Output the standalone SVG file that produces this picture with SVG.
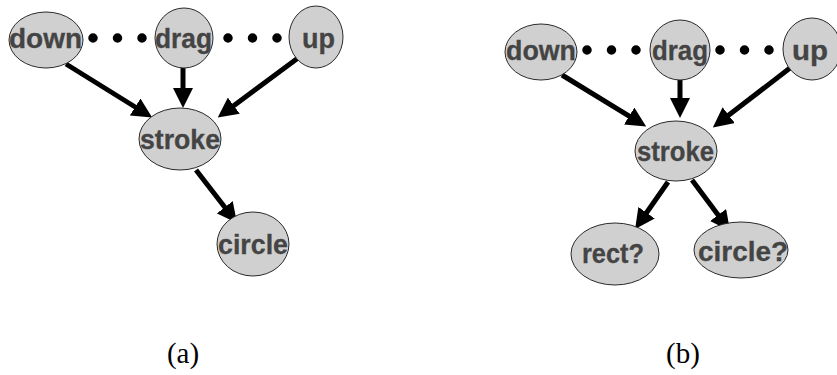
<svg xmlns="http://www.w3.org/2000/svg" width="837" height="375" viewBox="0 0 837 375">
<style>
.n ellipse{fill:#d0d0d0;stroke:#2a2a2a;stroke-width:1}
.n text{font-family:"Liberation Sans",Arial,sans-serif;font-weight:bold;font-size:27px;fill:#444;stroke:#444;stroke-width:0.3}
.e{stroke:#000;stroke-width:5;fill:none;marker-end:url(#ah)}
.dots{stroke:#000;stroke-width:9.5;stroke-linecap:round;stroke-dasharray:0 24.5;fill:none}
.cap{font-family:"Liberation Serif","Times New Roman",serif;font-size:29px;fill:#000;text-anchor:middle}
</style>
<defs>
<marker id="ah" viewBox="0 0 20 20" refX="1" refY="10" markerWidth="20" markerHeight="20" markerUnits="userSpaceOnUse" orient="auto">
<path d="M0,0 L20,10 L0,20 Z" fill="#000"/>
</marker>
</defs>
<rect width="837" height="375" fill="#fff"/>
<g id="connectors">
<line class="dots" x1="93" y1="38" x2="143" y2="38"/>
<line class="dots" x1="228" y1="38" x2="278" y2="38"/>
<line class="e" x1="66" y1="64" x2="136" y2="107.5"/>
<line class="e" x1="183" y1="68" x2="183" y2="89"/>
<line class="e" x1="298" y1="58" x2="233" y2="106.2"/>
<line class="e" x1="196" y1="170" x2="225.4" y2="208"/>
<line class="dots" x1="587" y1="50" x2="637" y2="50"/>
<line class="dots" x1="720" y1="50" x2="770" y2="50"/>
<line class="e" x1="562" y1="75" x2="630" y2="116.6"/>
<line class="e" x1="680" y1="80" x2="680" y2="99"/>
<line class="e" x1="790" y1="68" x2="727.9" y2="115.8"/>
<line class="e" x1="668" y1="182" x2="646" y2="213.5"/>
<line class="e" x1="692" y1="180" x2="718.7" y2="215.8"/>
</g>
<g id="a-down" class="n"><ellipse cx="46" cy="40" rx="37" ry="28"/><text x="9" y="48" textLength="73" lengthAdjust="spacingAndGlyphs">down</text></g>
<g id="a-drag" class="n"><ellipse cx="184" cy="38" rx="29" ry="30"/><text x="155" y="48" textLength="57" lengthAdjust="spacingAndGlyphs">drag</text></g>
<g id="a-up" class="n"><ellipse cx="316" cy="37" rx="27" ry="31"/><text x="302" y="48" textLength="33" lengthAdjust="spacingAndGlyphs">up</text></g>
<g id="a-stroke" class="n"><ellipse cx="180" cy="139" rx="41" ry="31"/><text x="140" y="149" textLength="80" lengthAdjust="spacingAndGlyphs">stroke</text></g>
<g id="a-circle" class="n"><ellipse cx="253" cy="244" rx="36" ry="32"/><text x="218" y="254" textLength="70" lengthAdjust="spacingAndGlyphs">circle</text></g>
<g id="b-down" class="n"><ellipse cx="541" cy="52" rx="36" ry="28"/><text x="506" y="60" textLength="70" lengthAdjust="spacingAndGlyphs">down</text></g>
<g id="b-drag" class="n"><ellipse cx="680" cy="50" rx="30" ry="30"/><text x="652" y="60" textLength="56" lengthAdjust="spacingAndGlyphs">drag</text></g>
<g id="b-up" class="n"><ellipse cx="812" cy="49" rx="29" ry="31"/><text x="792" y="60" textLength="36" lengthAdjust="spacingAndGlyphs">up</text></g>
<g id="b-stroke" class="n"><ellipse cx="676" cy="151" rx="41" ry="30"/><text x="637" y="161" textLength="77" lengthAdjust="spacingAndGlyphs">stroke</text></g>
<g id="b-rect" class="n"><ellipse cx="615" cy="254" rx="44" ry="31"/><text x="582" y="263" textLength="62" lengthAdjust="spacingAndGlyphs">rect?</text></g>
<g id="b-circle" class="n"><ellipse cx="741" cy="250" rx="47" ry="28"/><text x="698" y="261" textLength="90" lengthAdjust="spacingAndGlyphs">circle?</text></g>
<text class="cap" x="183" y="363">(a)</text>
<text class="cap" x="683" y="363">(b)</text>
</svg>
